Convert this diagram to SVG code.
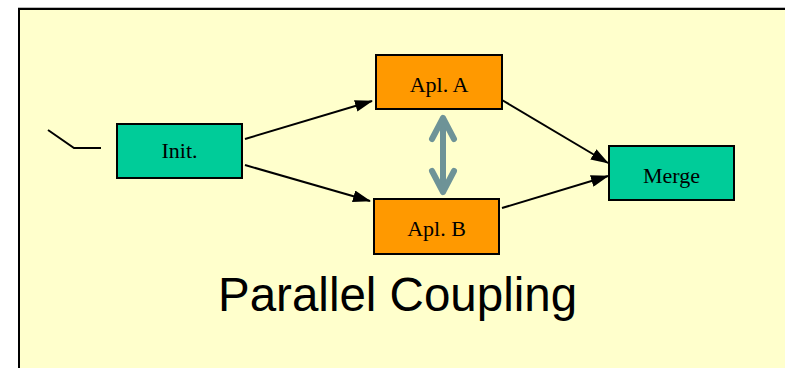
<svg xmlns="http://www.w3.org/2000/svg" width="785" height="368" viewBox="0 0 785 368">
  <style>
    .node { stroke: #000; stroke-width: 2; }
    .green { fill: #00CC99; }
    .orange { fill: #FF9900; }
    .label { font-family: "Liberation Serif", "Times New Roman", serif; font-size: 22px; fill: #000; text-anchor: middle; }
    .edge { stroke: #000; stroke-width: 2; fill: none; }
    .title { font-family: "Liberation Sans", Arial, sans-serif; font-size: 47.5px; fill: #000; }
  </style>
  <defs>
    <marker id="arrow" viewBox="0 0 18 12" refX="17" refY="6" markerWidth="18" markerHeight="12" markerUnits="userSpaceOnUse" orient="auto">
      <path d="M0,0 L18,6 L0,12 Z" fill="#000"/>
    </marker>
  </defs>

  <rect x="0" y="0" width="785" height="368" fill="#FFFFFF"/>
  <line x1="18" y1="7.5" x2="785" y2="7.5" stroke="#BBBBBB" stroke-width="1"/>
  <rect x="19" y="9" width="780" height="370" fill="#FFFFCC" stroke="#000" stroke-width="2"/>

  <g id="connectors">
    <polyline class="edge" points="48,130 74,148 101,148"/>
    <line class="edge" x1="245" y1="139" x2="372" y2="101" marker-end="url(#arrow)"/>
    <line class="edge" x1="245" y1="165" x2="370" y2="201" marker-end="url(#arrow)"/>
    <line class="edge" x1="502" y1="100" x2="608" y2="163" marker-end="url(#arrow)"/>
    <line class="edge" x1="502" y1="208" x2="608" y2="176" marker-end="url(#arrow)"/>
    <g id="coupling" stroke="#6E9397" stroke-width="6" fill="none" stroke-linecap="round" stroke-linejoin="round">
      <line x1="443" y1="119" x2="443" y2="191"/>
      <polyline points="432,139 443,118 454,139"/>
      <polyline points="432,171 443,192 454,171"/>
    </g>
  </g>

  <g id="init">
    <rect class="node green" x="117" y="124" width="125" height="54"/>
    <text class="label" x="179.5" y="158">Init.</text>
  </g>
  <g id="aplA">
    <rect class="node orange" x="376" y="55" width="126" height="54"/>
    <text class="label" x="439" y="92">Apl. A</text>
  </g>
  <g id="aplB">
    <rect class="node orange" x="374" y="199" width="125" height="55"/>
    <text class="label" x="436.5" y="236">Apl. B</text>
  </g>
  <g id="merge">
    <rect class="node green" x="609" y="146" width="125" height="54"/>
    <text class="label" x="671.5" y="183">Merge</text>
  </g>

  <text class="title" x="218" y="311">Parallel Coupling</text>
</svg>
